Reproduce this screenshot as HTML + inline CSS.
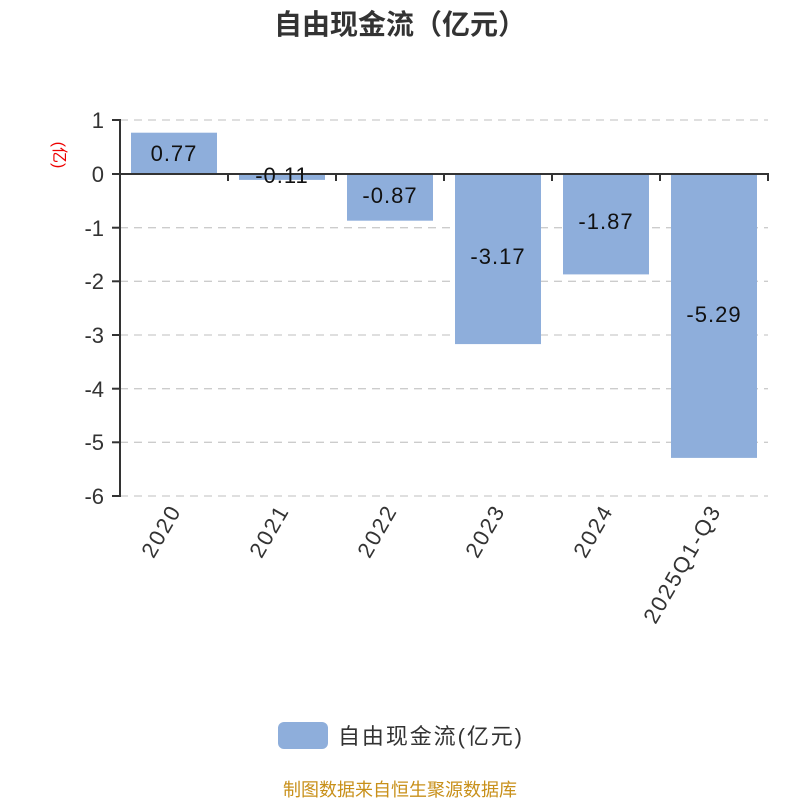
<!DOCTYPE html>
<html><head><meta charset="utf-8"><style>
html,body{margin:0;padding:0;background:#fff;}
svg{display:block;font-family:"Liberation Sans","Noto Sans CJK SC",sans-serif;}
</style></head><body>
<svg width="800" height="800" viewBox="0 0 800 800">
<text x="400" y="34" text-anchor="middle" font-size="28" font-weight="bold" fill="#333">自由现金流（亿元）</text>
<g stroke="#ccc" stroke-width="1.3" stroke-dasharray="8,6">
<line x1="120" y1="120" x2="768" y2="120"/>
<line x1="120" y1="227.7" x2="768" y2="227.7"/>
<line x1="120" y1="281.3" x2="768" y2="281.3"/>
<line x1="120" y1="335" x2="768" y2="335"/>
<line x1="120" y1="388.7" x2="768" y2="388.7"/>
<line x1="120" y1="442.3" x2="768" y2="442.3"/>
<line x1="120" y1="496" x2="768" y2="496"/>
</g>
<g fill="#8eaedb">
<rect x="131" y="132.7" width="86" height="41.3"/>
<rect x="239" y="174" width="86" height="5.9"/>
<rect x="347" y="174" width="86" height="46.7"/>
<rect x="455" y="174" width="86" height="170.1"/>
<rect x="563" y="174" width="86" height="100.4"/>
<rect x="671" y="174" width="86" height="283.9"/>
</g>
<g stroke="#333" stroke-width="2" fill="none">
<line x1="120" y1="119" x2="120" y2="497"/>
<line x1="112" y1="120" x2="120" y2="120"/>
<line x1="112" y1="174" x2="120" y2="174"/>
<line x1="112" y1="227.7" x2="120" y2="227.7"/>
<line x1="112" y1="281.3" x2="120" y2="281.3"/>
<line x1="112" y1="335" x2="120" y2="335"/>
<line x1="112" y1="388.7" x2="120" y2="388.7"/>
<line x1="112" y1="442.3" x2="120" y2="442.3"/>
<line x1="112" y1="496" x2="120" y2="496"/>
<line x1="112" y1="174" x2="769" y2="174"/>
<line x1="228" y1="174" x2="228" y2="181"/>
<line x1="336" y1="174" x2="336" y2="181"/>
<line x1="444" y1="174" x2="444" y2="181"/>
<line x1="552" y1="174" x2="552" y2="181"/>
<line x1="660" y1="174" x2="660" y2="181"/>
<line x1="768" y1="174" x2="768" y2="181"/>
</g>
<g font-size="22" fill="#333" text-anchor="end">
<text x="104" y="128">1</text>
<text x="104" y="182">0</text>
<text x="104" y="236">-1</text>
<text x="104" y="289">-2</text>
<text x="104" y="343">-3</text>
<text x="104" y="397">-4</text>
<text x="104" y="450">-5</text>
<text x="104" y="504">-6</text>
</g>
<text transform="translate(54,155) rotate(90)" text-anchor="middle" font-size="16" fill="#e00">(亿)</text>
<g font-size="22" fill="#111" text-anchor="middle" letter-spacing="1">
<text x="174" y="161">0.77</text>
<text x="282" y="183">-0.11</text>
<text x="390" y="203">-0.87</text>
<text x="498" y="264">-3.17</text>
<text x="606" y="229">-1.87</text>
<text x="714" y="322">-5.29</text>
</g>
<g font-size="22" fill="#333" text-anchor="end" letter-spacing="2">
<text transform="translate(182,510) rotate(-60)">2020</text>
<text transform="translate(290,510) rotate(-60)">2021</text>
<text transform="translate(398,510) rotate(-60)">2022</text>
<text transform="translate(506,510) rotate(-60)">2023</text>
<text transform="translate(614,510) rotate(-60)">2024</text>
<text transform="translate(722,510) rotate(-60)">2025Q1-Q3</text>
</g>
<rect x="278" y="722" width="50" height="27" rx="6" fill="#8eaedb"/>
<text x="338" y="744" font-size="22" fill="#333" textLength="184">自由现金流(亿元)</text>
<text x="400" y="796" text-anchor="middle" font-size="18" fill="#c8901a">制图数据来自恒生聚源数据库</text>
</svg>
</body></html>
